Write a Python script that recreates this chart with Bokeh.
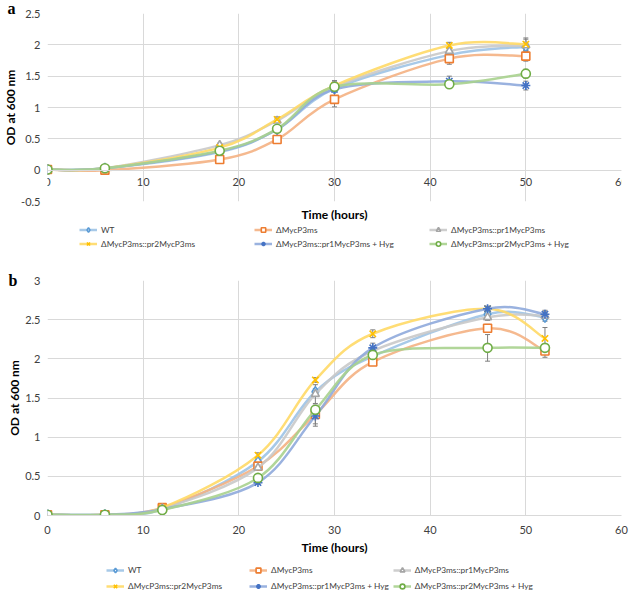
import numpy as np
from bokeh.plotting import figure
from bokeh.models import (ColumnDataSource, Range1d, FixedTicker, NumeralTickFormatter,
                          Whisker, TeeHead, Legend, LegendItem, Title)
from bokeh.layouts import column
from bokeh.embed import file_html
from bokeh.resources import INLINE

# ---------------- data ----------------
series_names = ["WT", "ΔMycP3ms", "ΔMycP3ms::pr1MycP3ms", "ΔMycP3ms::pr2MycP3ms",
                "ΔMycP3ms::pr1MycP3ms + Hyg", "ΔMycP3ms::pr2MycP3ms + Hyg"]

x_ticks = [0, 10, 20, 30, 40, 50, 60]
y_ticks_a = [-0.5, 0, 0.5, 1, 1.5, 2, 2.5]
y_ticks_b = [0, 0.5, 1, 1.5, 2, 2.5, 3]

# panel a
time_a = [0, 6, 18, 24, 30, 42, 50]
wt_a = [0.01, 0.03, 0.29, 0.65, 1.30, 1.84, 1.97]
dmyc_a = [0.01, 0.00, 0.17, 0.49, 1.13, 1.78, 1.82]
pr1_a = [0.01, 0.03, 0.40, 0.79, 1.33, 1.90, 1.99]
pr2_a = [0.01, 0.03, 0.36, 0.81, 1.35, 1.99, 2.01]
pr1h_a = [0.01, 0.03, 0.30, 0.65, 1.29, 1.42, 1.35]
pr2h_a = [0.01, 0.03, 0.31, 0.66, 1.33, 1.37, 1.54]

err_wt_a = [0.0, 0.01, 0.02, 0.03, 0.05, 0.05, 0.05]
err_dmyc_a = [0.0, 0.01, 0.02, 0.03, 0.12, 0.09, 0.08]
err_pr1_a = [0.0, 0.01, 0.03, 0.03, 0.08, 0.06, 0.10]
err_pr2_a = [0.0, 0.01, 0.02, 0.04, 0.05, 0.05, 0.10]
err_pr1h_a = [0.0, 0.01, 0.02, 0.03, 0.14, 0.08, 0.07]
err_pr2h_a = [0.0, 0.01, 0.02, 0.03, 0.05, 0.03, 0.07]

# panel b
time_b = [0, 6, 12, 22, 28, 34, 46, 52]
wt_b = [0.01, 0.01, 0.08, 0.69, 1.58, 2.03, 2.57, 2.53]
dmyc_b = [0.01, 0.01, 0.10, 0.63, 1.29, 1.96, 2.39, 2.10]
pr1_b = [0.01, 0.01, 0.09, 0.61, 1.55, 2.10, 2.53, 2.55]
pr2_b = [0.01, 0.01, 0.10, 0.77, 1.73, 2.32, 2.64, 2.26]
pr1h_b = [0.01, 0.01, 0.08, 0.42, 1.27, 2.14, 2.64, 2.57]
pr2h_b = [0.01, 0.01, 0.07, 0.48, 1.35, 2.05, 2.14, 2.14]

err_wt_b = [0.0, 0.0, 0.01, 0.03, 0.04, 0.04, 0.04, 0.05]
err_dmyc_b = [0.0, 0.0, 0.01, 0.03, 0.12, 0.03, 0.05, 0.08]
err_pr1_b = [0.0, 0.0, 0.01, 0.03, 0.12, 0.04, 0.04, 0.05]
err_pr2_b = [0.0, 0.0, 0.01, 0.03, 0.03, 0.05, 0.03, 0.14]
err_pr1h_b = [0.0, 0.0, 0.01, 0.02, 0.13, 0.06, 0.03, 0.05]
err_pr2h_b = [0.0, 0.0, 0.01, 0.03, 0.05, 0.04, 0.17, 0.05]

# ---------------- styles ----------------
line_colors = ["#9DC3E6", "#F4B183", "#C9C9C9", "#FFD966", "#8FAADC", "#A9D18E"]
marker_colors = ["#5B9BD5", "#ED7D31", "#A5A5A5", "#FFC000", "#4472C4", "#70AD47"]
markers = ["diamond", "square", "triangle", "x", "asterisk", "circle"]
marker_sizes = [10, 8, 8, 9, 9, 9]
FONT = "Lato"
GRID = "#D9D9D9"
W = 638


def bezier_segments(xs, ys):
    xs = np.asarray(xs, float)
    ys = np.asarray(ys, float)
    n = len(xs)
    px = np.concatenate([[xs[0]], xs, [xs[-1]]])
    py = np.concatenate([[ys[0]], ys, [ys[-1]]])
    P0x, P1x, P2x, P3x = px[0:n - 1], px[1:n], px[2:n + 1], px[3:n + 2]
    P0y, P1y, P2y, P3y = py[0:n - 1], py[1:n], py[2:n + 1], py[3:n + 2]
    return dict(x0=P1x, y0=P1y, x1=P2x, y1=P2y,
                cx0=P1x + (P2x - P0x) / 6, cy0=P1y + (P2y - P0y) / 6,
                cx1=P2x - (P3x - P1x) / 6, cy1=P2y - (P3y - P1y) / 6)


def style_marker(i):
    hollow = markers[i] not in ("x", "asterisk")
    return dict(marker=markers[i], line_color=marker_colors[i], line_width=1.6,
                fill_color="white" if hollow else marker_colors[i],
                fill_alpha=1 if hollow else 0)


def make_panel(tag, t, ys_list, errs_list, y_ticks, height, mb_left, mb_right,
               mb_top, mb_bottom, fixed_x, tag_offset, tag_standoff):
    p = figure(width=W, height=height, output_backend="svg", toolbar_location=None,
               x_range=Range1d(x_ticks[0], x_ticks[-1]),
               y_range=Range1d(y_ticks[0], y_ticks[-1]),
               min_border_left=mb_left, min_border_right=mb_right,
               min_border_top=mb_top, min_border_bottom=mb_bottom)
    p.outline_line_color = None
    p.xaxis.ticker = FixedTicker(ticks=x_ticks)
    p.yaxis.ticker = FixedTicker(ticks=y_ticks)
    p.yaxis.formatter = NumeralTickFormatter(format="0.[0]")
    p.xgrid.grid_line_color = GRID
    p.ygrid.grid_line_color = GRID
    for ax in (p.xaxis, p.yaxis):
        ax.major_tick_line_color = None
        ax.minor_tick_line_color = None
        ax.major_label_text_font = FONT
        ax.major_label_text_font_size = "11px"
        ax.major_label_text_color = "#404040"
        ax.axis_label_text_font = FONT
        ax.axis_label_text_font_size = "12px"
        ax.axis_label_text_font_style = "bold"
        ax.axis_label_text_color = "black"
    p.yaxis.axis_line_color = None
    p.xaxis.axis_line_color = GRID
    p.yaxis.axis_label = "OD at 600 nm"
    p.yaxis.axis_label_standoff = 0
    p.yaxis.major_label_standoff = 1

    if fixed_x:
        p.xaxis.fixed_location = 0
        p.xaxis.major_label_standoff = 2
        p.add_layout(Title(text="Time (hours)", align="center", text_font=FONT,
                           text_font_size="12px", text_font_style="bold",
                           text_color="black", standoff=6), "below")
    else:
        p.xaxis.major_label_standoff = 4
        p.xaxis.axis_label = "Time (hours)"
        p.xaxis.axis_label_standoff = 3

    for i, (ys, es) in enumerate(zip(ys_list, errs_list)):
        seg = ColumnDataSource(bezier_segments(t, ys))
        p.bezier(x0="x0", y0="y0", x1="x1", y1="y1", cx0="cx0", cy0="cy0",
                 cx1="cx1", cy1="cy1", source=seg, line_color=line_colors[i],
                 line_width=2.5, line_alpha=0.9)
        src = ColumnDataSource(dict(x=t, y=ys,
                                    upper=[a + b for a, b in zip(ys, es)],
                                    lower=[a - b for a, b in zip(ys, es)]))
        p.add_layout(Whisker(base="x", upper="upper", lower="lower", source=src,
                             line_color="#7F7F7F", line_width=1,
                             upper_head=TeeHead(size=5, line_color="#7F7F7F", line_width=1),
                             lower_head=TeeHead(size=5, line_color="#7F7F7F", line_width=1)))
        p.scatter(x="x", y="y", source=src, size=marker_sizes[i], **style_marker(i))

    p.add_layout(Title(text=tag, align="left", offset=tag_offset, standoff=tag_standoff,
                       text_font="Liberation Serif", text_font_style="bold",
                       text_font_size="16px", text_color="black"), "above")
    return p


def make_legend(t, ys_list, y_ticks, height, x0, y0, label_width, gh, spacing):
    # legend-only strip: the series renderers sit outside this strip's visible range
    f = figure(width=W, height=height, output_backend="svg", toolbar_location=None,
               x_axis_location=None, y_axis_location=None,
               x_range=Range1d(x_ticks[0], x_ticks[-1]),
               y_range=Range1d(y_ticks[-1] + 10, y_ticks[-1] + 11),
               min_border_left=0, min_border_right=0, min_border_top=0, min_border_bottom=0)
    f.outline_line_color = None
    f.xgrid.visible = False
    f.ygrid.visible = False
    items = []
    for i, name in enumerate(series_names):
        src = ColumnDataSource(dict(x=t, y=ys_list[i]))
        lr = f.line(x="x", y="y", source=src, line_color=line_colors[i],
                    line_width=2.5, line_alpha=0.9)
        sr = f.scatter(x="x", y="y", source=src, size=marker_sizes[i], **style_marker(i))
        items.append(LegendItem(label=name, renderers=[lr, sr]))
    leg = Legend(items=items, orientation="horizontal", ncols=3, location=(x0, y0),
                 label_text_font=FONT, label_text_font_size="8.3px",
                 label_text_color="#404040", glyph_width=18, glyph_height=gh,
                 label_height=gh, label_standoff=4, label_width=label_width,
                 spacing=spacing, padding=0, margin=0,
                 border_line_color=None, background_fill_alpha=0)
    f.add_layout(leg)
    return f


ys_a = [wt_a, dmyc_a, pr1_a, pr2_a, pr1h_a, pr2h_a]
ys_b = [wt_b, dmyc_b, pr1_b, pr2_b, pr1h_b, pr2h_b]

pa = make_panel("a", time_a, ys_a,
                [err_wt_a, err_dmyc_a, err_pr1_a, err_pr2_a, err_pr1h_a, err_pr2h_a],
                y_ticks_a, 224, 45, 7, 12, 22, True, -40, -6)
leg_a = make_legend(time_a, ys_a, y_ticks_a, 26, 32, 1, 150, 11, 3)
pb = make_panel("b", time_b, ys_b,
                [err_wt_b, err_dmyc_b, err_pr1_b, err_pr2_b, err_pr1h_b, err_pr2h_b],
                y_ticks_b, 307, 41, 17, 30, 40, False, -39, -16)
leg_b = make_legend(time_b, ys_b, y_ticks_b, 35, 59, 0, 117, 12, 4)

layout = column(pa, leg_a, pb, leg_b, spacing=0)
open("out.html", "w").write(file_html(layout, INLINE))
